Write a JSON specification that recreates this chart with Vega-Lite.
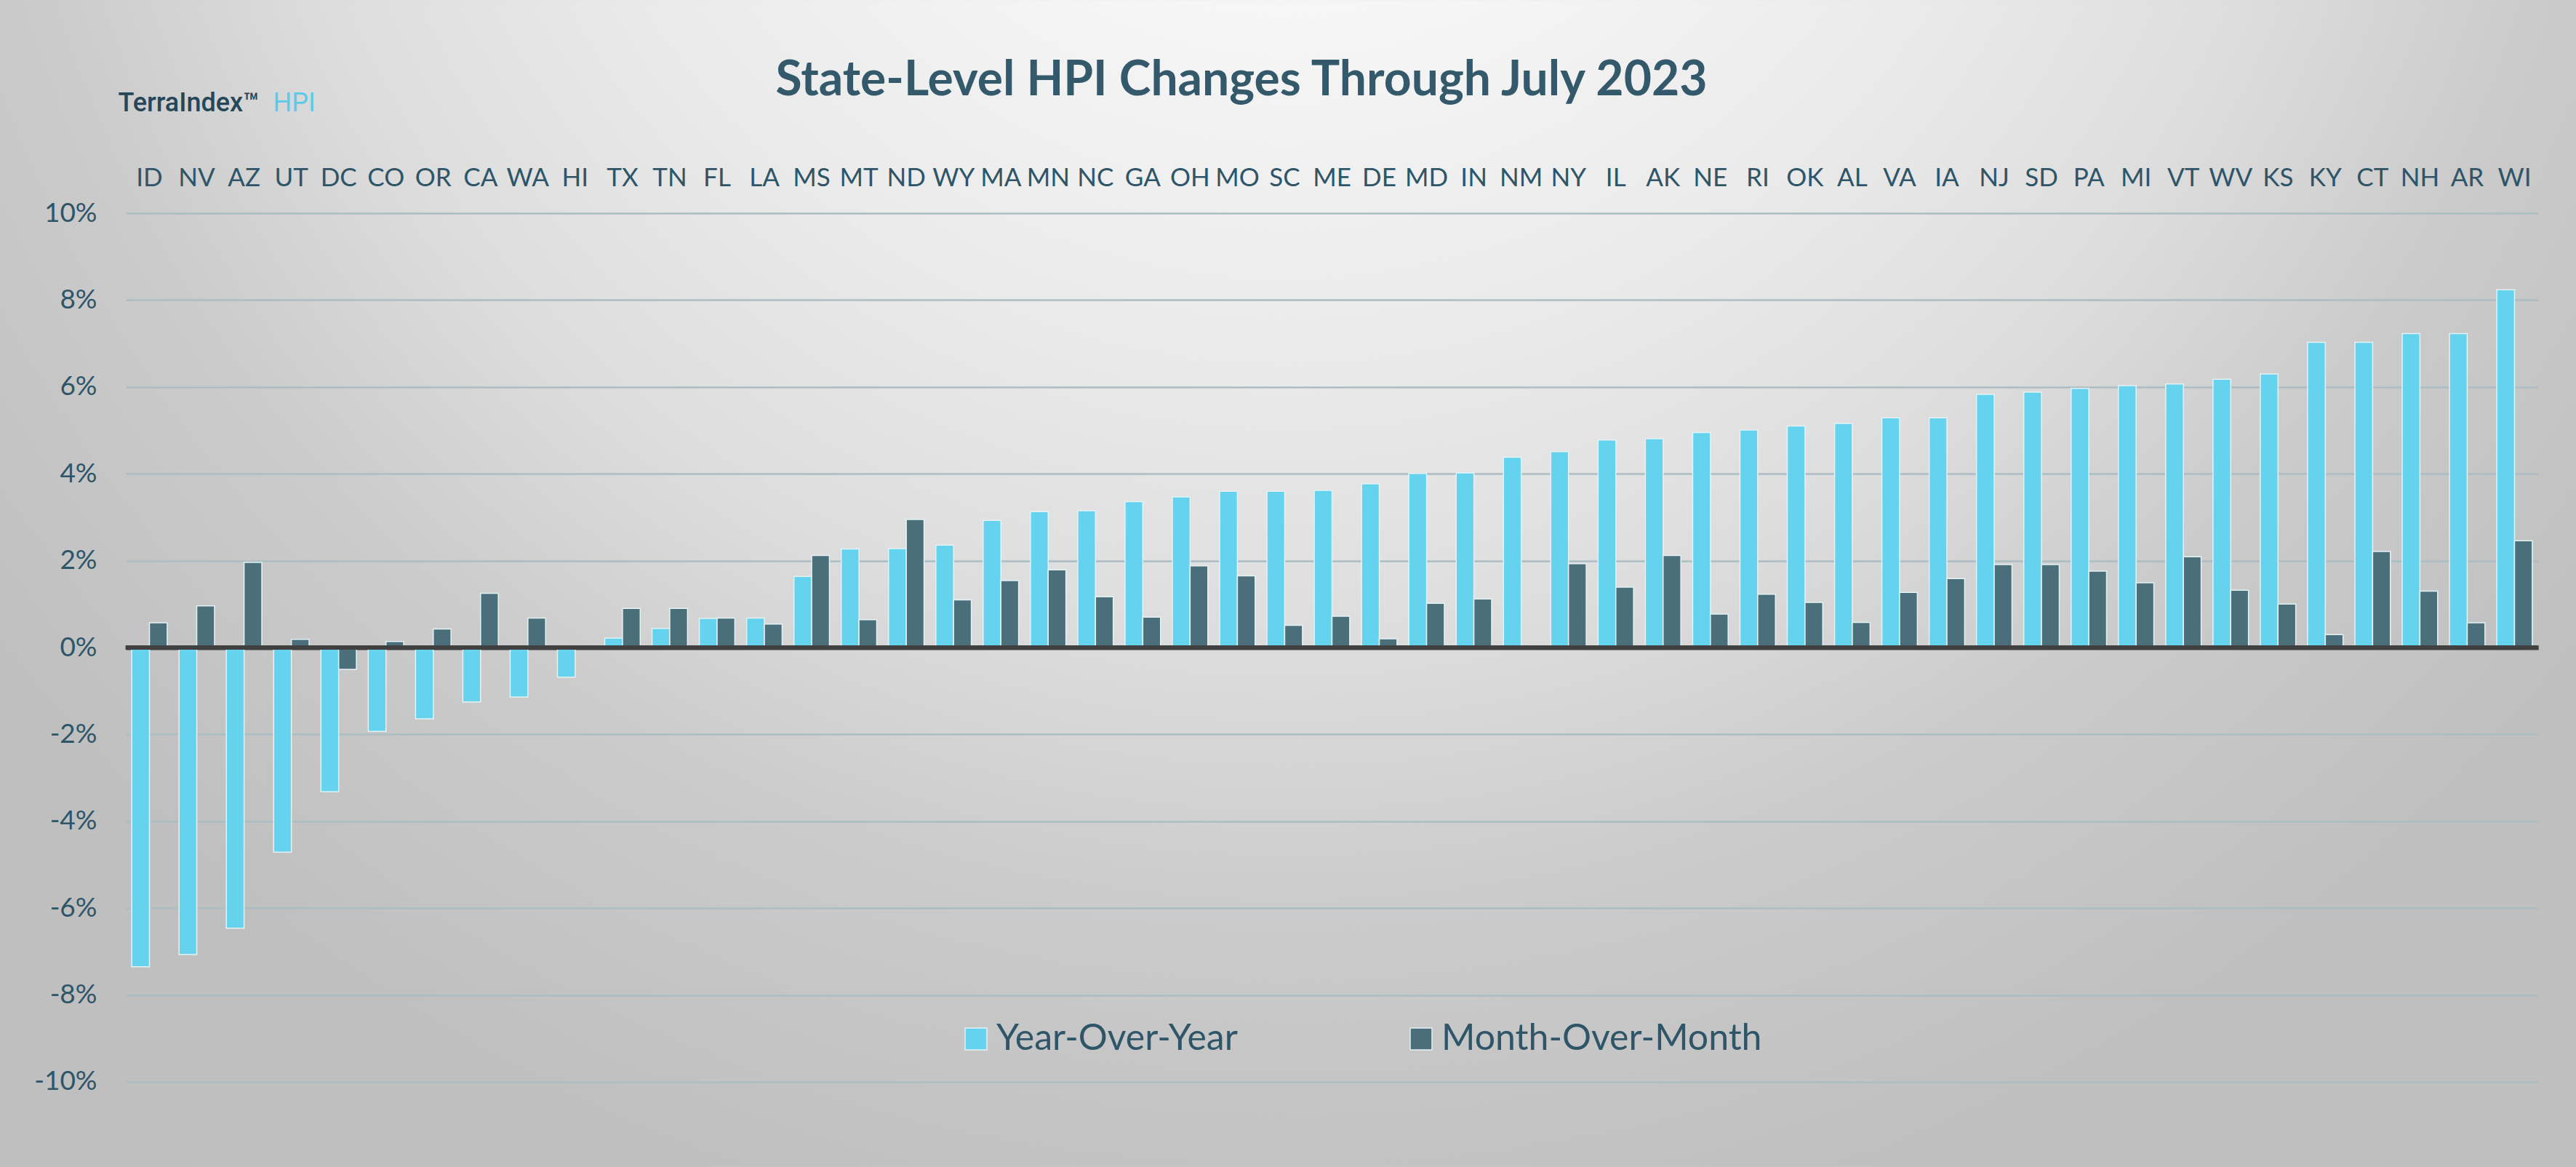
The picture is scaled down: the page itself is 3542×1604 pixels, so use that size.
{
  "$schema": "https://vega.github.io/schema/vega-lite/v6.json",
  "width": 3542,
  "height": 1604,
  "autosize": {"type": "none"},
  "padding": 0,
  "background": "#c8c8c8",
  "view": {
    "stroke": null,
    "fill": {
      "gradient": "radial",
      "x1": 0.5, "y1": 0.12, "r1": 0,
      "x2": 0.5, "y2": 0.12, "r2": 0.65,
      "stops": [
        {"offset": 0, "color": "#ffffff"},
        {"offset": 0.12, "color": "#fdfdfd"},
        {"offset": 0.45, "color": "#eaeaea"},
        {"offset": 0.62, "color": "#dddddd"},
        {"offset": 0.78, "color": "#cbcbcb"},
        {"offset": 1, "color": "#bfbfbf"}
      ]
    }
  },
  "title": {
    "text": "State-Level HPI Changes Through July 2023",
    "font": "Lato",
    "fontSize": 66,
    "fontWeight": "bold",
    "color": "#33596b",
    "anchor": "middle",
    "baseline": "alphabetic",
    "offset": -197,
    "dx": -64
  },
  "data": {
    "values": [
      {"state": "ID", "series": "Year-Over-Year", "value": -7.35}, {"state": "ID", "series": "Month-Over-Month", "value": 0.57},
      {"state": "NV", "series": "Year-Over-Year", "value": -7.07}, {"state": "NV", "series": "Month-Over-Month", "value": 0.96},
      {"state": "AZ", "series": "Year-Over-Year", "value": -6.46}, {"state": "AZ", "series": "Month-Over-Month", "value": 1.96},
      {"state": "UT", "series": "Year-Over-Year", "value": -4.71}, {"state": "UT", "series": "Month-Over-Month", "value": 0.19},
      {"state": "DC", "series": "Year-Over-Year", "value": -3.32}, {"state": "DC", "series": "Month-Over-Month", "value": -0.5},
      {"state": "CO", "series": "Year-Over-Year", "value": -1.93}, {"state": "CO", "series": "Month-Over-Month", "value": 0.14},
      {"state": "OR", "series": "Year-Over-Year", "value": -1.64}, {"state": "OR", "series": "Month-Over-Month", "value": 0.43},
      {"state": "CA", "series": "Year-Over-Year", "value": -1.25}, {"state": "CA", "series": "Month-Over-Month", "value": 1.25},
      {"state": "WA", "series": "Year-Over-Year", "value": -1.14}, {"state": "WA", "series": "Month-Over-Month", "value": 0.68},
      {"state": "HI", "series": "Year-Over-Year", "value": -0.68}, {"state": "HI", "series": "Month-Over-Month", "value": 0},
      {"state": "TX", "series": "Year-Over-Year", "value": 0.22}, {"state": "TX", "series": "Month-Over-Month", "value": 0.9},
      {"state": "TN", "series": "Year-Over-Year", "value": 0.44}, {"state": "TN", "series": "Month-Over-Month", "value": 0.9},
      {"state": "FL", "series": "Year-Over-Year", "value": 0.67}, {"state": "FL", "series": "Month-Over-Month", "value": 0.68},
      {"state": "LA", "series": "Year-Over-Year", "value": 0.68}, {"state": "LA", "series": "Month-Over-Month", "value": 0.54},
      {"state": "MS", "series": "Year-Over-Year", "value": 1.64}, {"state": "MS", "series": "Month-Over-Month", "value": 2.12},
      {"state": "MT", "series": "Year-Over-Year", "value": 2.27}, {"state": "MT", "series": "Month-Over-Month", "value": 0.64},
      {"state": "ND", "series": "Year-Over-Year", "value": 2.28}, {"state": "ND", "series": "Month-Over-Month", "value": 2.95},
      {"state": "WY", "series": "Year-Over-Year", "value": 2.36}, {"state": "WY", "series": "Month-Over-Month", "value": 1.1},
      {"state": "MA", "series": "Year-Over-Year", "value": 2.93}, {"state": "MA", "series": "Month-Over-Month", "value": 1.54},
      {"state": "MN", "series": "Year-Over-Year", "value": 3.13}, {"state": "MN", "series": "Month-Over-Month", "value": 1.79},
      {"state": "NC", "series": "Year-Over-Year", "value": 3.15}, {"state": "NC", "series": "Month-Over-Month", "value": 1.17},
      {"state": "GA", "series": "Year-Over-Year", "value": 3.36}, {"state": "GA", "series": "Month-Over-Month", "value": 0.7},
      {"state": "OH", "series": "Year-Over-Year", "value": 3.47}, {"state": "OH", "series": "Month-Over-Month", "value": 1.88},
      {"state": "MO", "series": "Year-Over-Year", "value": 3.6}, {"state": "MO", "series": "Month-Over-Month", "value": 1.65},
      {"state": "SC", "series": "Year-Over-Year", "value": 3.6}, {"state": "SC", "series": "Month-Over-Month", "value": 0.51},
      {"state": "ME", "series": "Year-Over-Year", "value": 3.62}, {"state": "ME", "series": "Month-Over-Month", "value": 0.72},
      {"state": "DE", "series": "Year-Over-Year", "value": 3.77}, {"state": "DE", "series": "Month-Over-Month", "value": 0.2},
      {"state": "MD", "series": "Year-Over-Year", "value": 4.01}, {"state": "MD", "series": "Month-Over-Month", "value": 1.02},
      {"state": "IN", "series": "Year-Over-Year", "value": 4.02}, {"state": "IN", "series": "Month-Over-Month", "value": 1.12},
      {"state": "NM", "series": "Year-Over-Year", "value": 4.38}, {"state": "NM", "series": "Month-Over-Month", "value": 0},
      {"state": "NY", "series": "Year-Over-Year", "value": 4.51}, {"state": "NY", "series": "Month-Over-Month", "value": 1.93},
      {"state": "IL", "series": "Year-Over-Year", "value": 4.78}, {"state": "IL", "series": "Month-Over-Month", "value": 1.39},
      {"state": "AK", "series": "Year-Over-Year", "value": 4.81}, {"state": "AK", "series": "Month-Over-Month", "value": 2.12},
      {"state": "NE", "series": "Year-Over-Year", "value": 4.95}, {"state": "NE", "series": "Month-Over-Month", "value": 0.77},
      {"state": "RI", "series": "Year-Over-Year", "value": 5.01}, {"state": "RI", "series": "Month-Over-Month", "value": 1.23},
      {"state": "OK", "series": "Year-Over-Year", "value": 5.1}, {"state": "OK", "series": "Month-Over-Month", "value": 1.04},
      {"state": "AL", "series": "Year-Over-Year", "value": 5.16}, {"state": "AL", "series": "Month-Over-Month", "value": 0.58},
      {"state": "VA", "series": "Year-Over-Year", "value": 5.29}, {"state": "VA", "series": "Month-Over-Month", "value": 1.27},
      {"state": "IA", "series": "Year-Over-Year", "value": 5.29}, {"state": "IA", "series": "Month-Over-Month", "value": 1.59},
      {"state": "NJ", "series": "Year-Over-Year", "value": 5.83}, {"state": "NJ", "series": "Month-Over-Month", "value": 1.91},
      {"state": "SD", "series": "Year-Over-Year", "value": 5.88}, {"state": "SD", "series": "Month-Over-Month", "value": 1.91},
      {"state": "PA", "series": "Year-Over-Year", "value": 5.97}, {"state": "PA", "series": "Month-Over-Month", "value": 1.76},
      {"state": "MI", "series": "Year-Over-Year", "value": 6.03}, {"state": "MI", "series": "Month-Over-Month", "value": 1.49},
      {"state": "VT", "series": "Year-Over-Year", "value": 6.07}, {"state": "VT", "series": "Month-Over-Month", "value": 2.09},
      {"state": "WV", "series": "Year-Over-Year", "value": 6.18}, {"state": "WV", "series": "Month-Over-Month", "value": 1.32},
      {"state": "KS", "series": "Year-Over-Year", "value": 6.3}, {"state": "KS", "series": "Month-Over-Month", "value": 1.0},
      {"state": "KY", "series": "Year-Over-Year", "value": 7.03}, {"state": "KY", "series": "Month-Over-Month", "value": 0.3},
      {"state": "CT", "series": "Year-Over-Year", "value": 7.03}, {"state": "CT", "series": "Month-Over-Month", "value": 2.21},
      {"state": "NH", "series": "Year-Over-Year", "value": 7.23}, {"state": "NH", "series": "Month-Over-Month", "value": 1.3},
      {"state": "AR", "series": "Year-Over-Year", "value": 7.23}, {"state": "AR", "series": "Month-Over-Month", "value": 0.57},
      {"state": "WI", "series": "Year-Over-Year", "value": 8.24}, {"state": "WI", "series": "Month-Over-Month", "value": 2.46}
    ]
  },
  "encoding": {
    "x": {
      "field": "state",
      "type": "nominal",
      "sort": null,
      "scale": {"range": [173, 3490], "paddingInner": 0.25, "paddingOuter": 0.125},
      "axis": {
        "orient": "top",
        "offset": -255,
        "ticks": false,
        "tickSize": 0,
        "domain": false,
        "grid": false,
        "labelPadding": 0,
        "labelBaseline": "alphabetic",
        "labelAngle": 0,
        "labelFont": "Lato",
        "labelFontSize": 35,
        "labelColor": "#2e5568",
        "labelOverlap": false,
        "title": "HPI",
        "titleX": 375,
        "titleY": -103,
        "titleAlign": "left",
        "titleBaseline": "alphabetic",
        "titleAngle": 0,
        "titleFont": "Roboto",
        "titleFontSize": 36,
        "titleFontWeight": "normal",
        "titleColor": "#5ccbea"
      }
    },
    "y": {
      "field": "value",
      "type": "quantitative",
      "scale": {"domain": [-11.96, 14.91], "nice": false},
      "axis": {
        "orient": "left",
        "offset": -133,
        "values": [-10, -8, -6, -4, -2, 0, 2, 4, 6, 8, 10],
        "labelExpr": "datum.value + '%'",
        "ticks": false,
        "tickSize": 0,
        "domain": false,
        "labelPadding": 0,
        "labelFont": "Lato",
        "labelFontSize": 37,
        "labelColor": "#2e5568",
        "labelBaseline": "middle",
        "grid": true,
        "gridColor": {"condition": {"test": "datum.value === 0", "value": "#404040"}, "value": "#abbdc3"},
        "gridWidth": {"condition": {"test": "datum.value === 0", "value": 6}, "value": 2.5},
        "gridOpacity": 1,
        "title": "TerraIndex™",
        "titleX": 29,
        "titleY": 152,
        "titleAngle": 0,
        "titleAlign": "left",
        "titleBaseline": "alphabetic",
        "titleFont": "Roboto",
        "titleFontSize": 36,
        "titleFontWeight": 500,
        "titleColor": "#264758"
      }
    }
  },
  "layer": [
    {
      "mark": {"type": "bar", "stroke": "#e4f2f6", "strokeWidth": 1.5},
      "encoding": {
        "xOffset": {
          "field": "series",
          "type": "nominal",
          "sort": ["Year-Over-Year", "Month-Over-Month"],
          "scale": {"domain": ["Year-Over-Year", "Month-Over-Month"], "paddingInner": 0, "paddingOuter": 0}
        },
        "y2": {"datum": 0},
        "color": {
          "field": "series",
          "type": "nominal",
          "scale": {"domain": ["Year-Over-Year", "Month-Over-Month"], "range": ["#65d3ee", "#4a6e7a"]},
          "legend": {
            "orient": "none",
            "legendX": 1317,
            "legendY": 1403,
            "direction": "horizontal",
            "title": null,
            "symbolType": "square",
            "symbolSize": 900,
            "symbolStrokeColor": "#e4f2f6",
            "symbolStrokeWidth": 1.5,
            "symbolOpacity": 1,
            "labelFont": "Lato",
            "labelFontSize": 50,
            "labelColor": "#2e5568",
            "labelOffset": 3,
            "columnPadding": 227,
            "labelLimit": 0
          }
        }
      }
    },
    {
      "mark": {"type": "tick", "orient": "horizontal", "color": "#404040", "thickness": 6, "size": 65.5, "opacity": 1},
      "encoding": {
        "y": {"datum": 0, "type": "quantitative"}
      }
    }
  ],
  "config": {
    "view": {"stroke": null}
  }
}
